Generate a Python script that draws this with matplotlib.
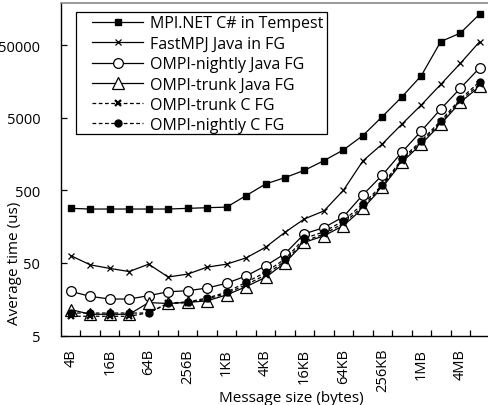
import matplotlib
matplotlib.use('Agg')
import matplotlib.pyplot as plt
from matplotlib.patches import Rectangle
from matplotlib.ticker import FixedLocator, NullLocator, NullFormatter

plt.rcParams['font.family'] = ['Open Sans', 'DejaVu Sans']

# message sizes (one point per power of two)
sizes = ['4B', '8B', '16B', '32B', '64B', '128B', '256B', '512B', '1KB', '2KB',
         '4KB', '8KB', '16KB', '32KB', '64KB', '128KB', '256KB', '512KB',
         '1MB', '2MB', '4MB', '8MB']

# average time (us)
mpinet_tempest = [282, 276, 276, 276, 276, 276, 282, 288, 293, 422, 610, 748,
                  943, 1280, 1800, 2840, 5190, 9650, 19000, 56000, 73000, 134000]
fastmpj_fg = [63, 47, 42, 38, 48, 32, 35, 43.7, 48, 58.6, 82, 132, 202, 260,
              500, 1270, 2180, 4070, 7500, 14400, 27900, 56000]
nightly_java = [20.3, 17.3, 15.9, 15.9, 17.7, 20, 20.7, 22.5, 26.2, 33, 45.5,
                67, 126, 153, 216, 433, 812, 1670, 3280, 6590, 12700, 24400]
trunk_java = [11.4, 9.8, 9.8, 9.8, 14.2, 13.8, 14.3, 15, 18.1, 23.5, 31.6, 50,
              96, 118, 163, 282, 549, 1216, 2170, 4090, 8150, 13500]
trunk_c = [9.2, 9.2, 9.2, 9.2, 10.3, 13.8, 14.2, 15.8, 19, 25, 34, 53, 100,
           125, 175, 300, 570, 1280, 2300, 4300, 8600, 14500]
nightly_c = [10.2, 10.2, 10.2, 10.2, 10.2, 14, 14.5, 16.4, 19.7, 27, 37, 56.6,
             109, 134, 190, 324, 592, 1350, 2410, 4550, 9050, 15700]

x = list(range(len(sizes)))

fig = plt.figure(figsize=(4.88, 4.06), dpi=100)
W, H = 488, 406
ax = fig.add_axes([61 / W, (H - 336.5) / H, 428.5 / W, 332.5 / H])

lw = 0.9
ax.plot(x, mpinet_tempest, color='black', lw=lw, marker='s', ms=5,
        label='MPI.NET C# in Tempest')
ax.plot(x, fastmpj_fg, color='black', lw=lw, marker='x', ms=5, mew=0.9,
        label='FastMPJ Java in FG')
ax.plot(x, nightly_java, color='black', lw=lw, marker='o', ms=7,
        mfc='white', mew=0.9, label='OMPI-nightly Java FG')
ax.plot(x, trunk_java, color='black', lw=lw, marker='^', ms=8.5,
        mfc='white', mew=0.9, label='OMPI-trunk Java FG')
ax.plot(x, trunk_c, color='black', lw=lw, ls=(0, (3, 2)), marker='x', ms=5,
        mew=1.6, label='OMPI-trunk C FG')
ax.plot(x, nightly_c, color='black', lw=lw, ls=(0, (3, 2)), marker='o', ms=5,
        label='OMPI-nightly C FG')

ax.set_yscale('log')
ax.set_ylim(5, 190000)
ax.set_xlim(-0.5, len(sizes) - 0.5)

ax.yaxis.set_major_locator(FixedLocator([5, 50, 500, 5000, 50000]))
ax.yaxis.set_minor_locator(NullLocator())
ax.yaxis.set_minor_formatter(NullFormatter())
ax.set_yticklabels(['5', '50', '500', '5000', '50000'])
ax.tick_params(axis='y', direction='in', length=4, width=0.9, pad=15,
               labelsize=10.5)

ax.set_xticks(x[::2])
ax.set_xticklabels(sizes[::2], rotation=90, fontsize=10.5)
ax.xaxis.set_minor_locator(FixedLocator([i + 0.5 for i in x[:-1]]))
ax.tick_params(axis='x', which='major', length=0, pad=9)
ax.tick_params(axis='x', which='minor', direction='in', length=4, width=0.9)

ax.spines['right'].set_visible(False)
ax.spines['top'].set_color('#888888')
ax.spines['top'].set_linewidth(1.2)
ax.spines['left'].set_linewidth(1)
ax.spines['bottom'].set_linewidth(1)

ax.set_ylabel('Average time (us)', fontsize=11)
ax.yaxis.set_label_coords(-0.092, 0.22)
ax.set_xlabel('Message size (bytes)', fontsize=11)
ax.xaxis.set_label_coords(0.537, -0.164)

# legend box drawn by hand so the padding matches the original
ax.add_patch(Rectangle((76 / W, 1 - 135 / H), 251 / W, 122 / H,
                       transform=fig.transFigure, facecolor='white',
                       edgecolor='black', lw=0.9, zorder=4.9, clip_on=False))
leg = ax.legend(loc='upper left', bbox_to_anchor=(92 / W, 1 - 16.5 / H),
                bbox_transform=fig.transFigure, borderaxespad=0, borderpad=0,
                frameon=False, fontsize=11.5, handlelength=3.2,
                handletextpad=0.42, labelspacing=0.27)
leg.set_zorder(5)

fig.savefig('out.png', dpi=100)
